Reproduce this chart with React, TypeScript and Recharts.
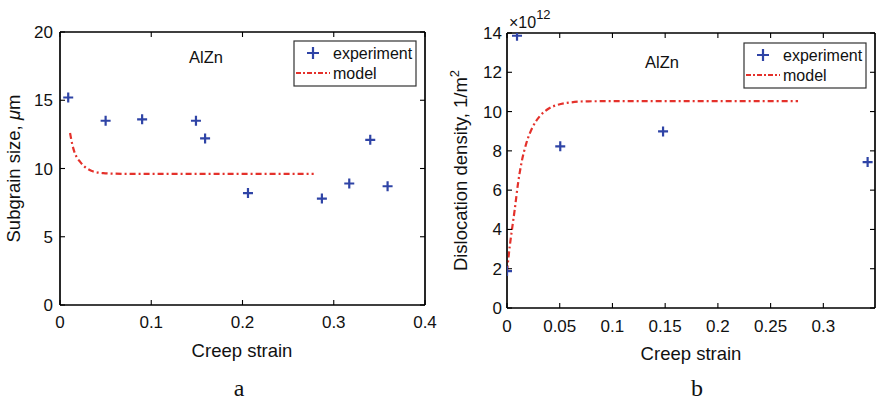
import React from 'react';
import { ComposedChart, Line, Scatter, XAxis, YAxis, Legend, ReferenceLine } from 'recharts';

// panel a: subgrain size vs creep strain
const expStrainA = [0.009, 0.05, 0.09, 0.149, 0.159, 0.206, 0.287, 0.317, 0.34, 0.359];
const expSizeA = [15.2, 13.5, 13.6, 13.5, 12.2, 8.2, 7.8, 8.9, 12.1, 8.7];
const modelStrainA = [0.011, 0.0135, 0.0164, 0.019, 0.0219, 0.0255, 0.0292, 0.0365, 0.0475, 0.06, 0.08, 0.1, 0.15, 0.2, 0.25, 0.278];
const modelSizeA = [12.6, 11.75, 11.1, 10.75, 10.5, 10.22, 10.02, 9.78, 9.66, 9.62, 9.6, 9.6, 9.6, 9.6, 9.6, 9.6];
const xTicksA = [0, 0.1, 0.2, 0.3, 0.4];
const yTicksA = [0, 5, 10, 15, 20];

// panel b: dislocation density (x10^12 1/m^2) vs creep strain
const expStrainB = [0, 0.0095, 0.0505, 0.148, 0.342];
const expDensB = [1.88, 13.86, 8.23, 8.99, 7.43];
const modelStrainB = [0, 0.0026, 0.0047, 0.0073, 0.0105, 0.0137, 0.0184, 0.0247, 0.031, 0.0389, 0.0484, 0.061, 0.074, 0.1, 0.15, 0.2, 0.25, 0.276];
const modelDensB = [1.86, 3.14, 3.99, 5.0, 6.36, 7.38, 8.4, 9.25, 9.76, 10.13, 10.35, 10.47, 10.52, 10.53, 10.53, 10.53, 10.53, 10.53];
const xTicksB = [0, 0.05, 0.1, 0.15, 0.2, 0.25, 0.3];
const yTicksB = [0, 2, 4, 6, 8, 10, 12, 14];

const BLUE = '#2f44a6';
const RED = '#e4312b';
const FONT = '"Liberation Sans", Arial, sans-serif';
const tickStyle = { fontSize: 17, fill: '#111', fontFamily: FONT };
const AXIS_W = 1.2;

const toRows = (xs: number[], ys: number[]) => xs.map((x, i) => ({ x, y: ys[i] }));

const Plus = (props: any) => {
  const { cx, cy } = props;
  if (cx == null || cy == null) return null;
  return <path d={`M${cx - 5},${cy}H${cx + 5}M${cx},${cy - 5}V${cy + 5}`} stroke={BLUE} strokeWidth={2.2} fill="none" />;
};

const LegendBox = () => (
  <svg width={124} height={47} style={{ display: 'block', overflow: 'visible' }}>
    <rect x={1} y={1} width={122} height={45} fill="#fff" stroke="#333" strokeWidth={1.2} />
    <path d="M14,13H26M20,7V19" stroke={BLUE} strokeWidth={2.2} />
    <text x={40} y={19} fontSize={16} fontFamily={FONT} fill="#111">experiment</text>
    <line x1={3} y1={33} x2={37} y2={33} stroke={RED} strokeWidth={2} strokeDasharray="5 2 2 2" />
    <text x={40} y={39} fontSize={16} fontFamily={FONT} fill="#111">model</text>
  </svg>
);

interface PanelProps {
  exp: { x: number; y: number }[];
  model: { x: number; y: number }[];
  width: number;
  margin: { top: number; right: number; bottom: number; left: number };
  xDomain: [number, number];
  yDomain: [number, number];
  xTicks: number[];
  yTicks: number[];
  yMargin: number;
  xMargin: number;
  legendPos: { left: number; top: number };
}

function Panel({ exp, model, width, margin, xDomain, yDomain, xTicks, yTicks, yMargin, xMargin, legendPos }: PanelProps) {
  const noLabel = () => <g />;
  const axisLine = { stroke: '#000', strokeWidth: AXIS_W };
  const tickLine = { stroke: '#000', strokeWidth: 1.1 };
  return (
    <ComposedChart width={width} height={401} margin={margin}>
      <XAxis xAxisId="b" type="number" dataKey="x" domain={xDomain} ticks={xTicks} allowDataOverflow stroke="#000"
        axisLine={axisLine} tickLine={tickLine} height={30} tickSize={-5} tickMargin={xMargin} tick={tickStyle} interval={0} />
      <XAxis xAxisId="t" orientation="top" type="number" dataKey="x" domain={xDomain} ticks={xTicks} allowDataOverflow stroke="#000"
        axisLine={axisLine} tickLine={tickLine} height={1} tickSize={-5} tick={noLabel} interval={0} />
      <YAxis yAxisId="l" type="number" domain={yDomain} ticks={yTicks} allowDataOverflow stroke="#000"
        axisLine={axisLine} tickLine={tickLine} width={50} tickSize={-5} tickMargin={yMargin} tick={tickStyle} interval={0} />
      <YAxis yAxisId="r" orientation="right" type="number" domain={yDomain} ticks={yTicks} allowDataOverflow stroke="#000"
        axisLine={axisLine} tickLine={tickLine} width={1} tickSize={-5} tick={noLabel} interval={0} />
      {/* box edges along the domain limits, in case the mirror axes draw nothing */}
      <ReferenceLine xAxisId="b" yAxisId="l" y={yDomain[1]} stroke="#000" strokeWidth={AXIS_W} />
      <ReferenceLine xAxisId="b" yAxisId="l" x={xDomain[1]} stroke="#000" strokeWidth={AXIS_W} />
      <ReferenceLine xAxisId="b" yAxisId="l" y={yDomain[0]} stroke="#000" strokeWidth={AXIS_W} />
      <ReferenceLine xAxisId="b" yAxisId="l" x={xDomain[0]} stroke="#000" strokeWidth={AXIS_W} />
      <Line xAxisId="t" yAxisId="r" data={model} dataKey="y" dot={false} stroke="none" strokeOpacity={0}
        isAnimationActive={false} legendType="none" />
      <Line xAxisId="b" yAxisId="l" data={model} dataKey="y" type="monotone" dot={false} stroke={RED}
        strokeWidth={2.2} strokeDasharray="6 3 2 3" isAnimationActive={false} />
      <Scatter xAxisId="b" yAxisId="l" data={exp} dataKey="y" shape={Plus} isAnimationActive={false} />
      <Legend content={LegendBox} layout="vertical" align="center" verticalAlign="middle"
        wrapperStyle={{ position: 'absolute', left: legendPos.left, top: legendPos.top, width: 124, height: 47 }} />
    </ComposedChart>
  );
}

export default function App() {
  return (
    <div style={{ position: 'absolute', left: 0, top: 0, width: 876, height: 401, background: '#fff', fontFamily: FONT }}>
      <div style={{ position: 'absolute', left: 0, top: 0 }}>
        <Panel exp={toRows(expStrainA, expSizeA)} model={toRows(modelStrainA, modelSizeA)} width={440}
          margin={{ top: 31, right: 14, bottom: 66, left: 10 }} xDomain={[0, 0.4]} yDomain={[0, 20]}
          xTicks={xTicksA} yTicks={yTicksA} yMargin={12} xMargin={16} legendPos={{ left: 293, top: 40 }} />
      </div>
      <div style={{ position: 'absolute', left: 440, top: 0 }}>
        <Panel exp={toRows(expStrainB, expDensB)} model={toRows(modelStrainB, modelDensB)} width={436}
          margin={{ top: 32, right: 0, bottom: 63, left: 17 }} xDomain={[0, 0.349]} yDomain={[0, 14]}
          xTicks={xTicksB} yTicks={yTicksB} yMargin={10} xMargin={17} legendPos={{ left: 303, top: 42 }} />
      </div>
      <svg width={876} height={401} style={{ position: 'absolute', left: 0, top: 0, pointerEvents: 'none' }}>
        <g fontFamily={FONT} fill="#111">
          <text x={206} y={63} fontSize={16.5} textAnchor="middle">AlZn</text>
          <text x={662} y={68} fontSize={16.5} textAnchor="middle">AlZn</text>
          <text x={242} y={357} fontSize={18.5} textAnchor="middle">Creep strain</text>
          <text x={691} y={360} fontSize={18.5} textAnchor="middle">Creep strain</text>
          <text transform="translate(20,168.5) rotate(-90)" fontSize={18.5} textAnchor="middle">
            Subgrain size, <tspan fontStyle="italic">μ</tspan>m
          </text>
          <text transform="translate(467,170.5) rotate(-90)" fontSize={18.5} textAnchor="middle">
            Dislocation density,  1/m<tspan dy={-8} fontSize={13}>2</tspan>
          </text>
          <text x={509} y={28} fontSize={16}>×10<tspan dy={-9} fontSize={13}>12</tspan></text>
        </g>
        <g fontFamily='"Liberation Serif", "Times New Roman", serif' fill="#111">
          <text x={239} y={396} fontSize={24} textAnchor="middle">a</text>
          <text x={697} y={396} fontSize={24} textAnchor="middle">b</text>
        </g>
      </svg>
    </div>
  );
}
